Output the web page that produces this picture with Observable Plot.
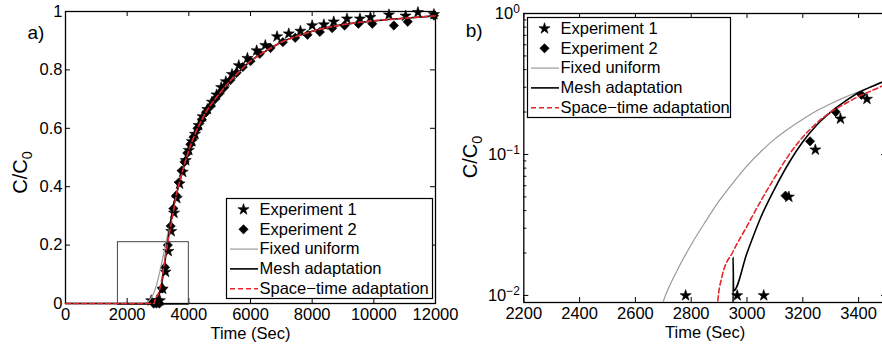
<!DOCTYPE html>
<html><head><meta charset="utf-8">
<script src="https://cdn.jsdelivr.net/npm/d3@7"></script>
<script src="https://cdn.jsdelivr.net/npm/@observablehq/plot@0.6"></script>
<style>
body{margin:0;background:#fff;}
#wrap{position:relative;width:882px;height:347px;overflow:hidden;background:#fff;}
#wrap svg{position:absolute;}
</style></head><body><div id="wrap"></div>
<script>
const FONT = "'Liberation Sans', Arial, Helvetica, sans-serif";

// ---- Experiment 1 (stars) ----
const exp1Time = [2780, 2965, 3060, 3150, 3245, 3335, 3430, 3520, 3610, 3700, 3800, 3900, 4000, 4100, 4200, 4320, 4450, 4600, 4750, 4900, 5050, 5200, 5400, 5620, 5900, 6200, 6480, 6860, 7240, 7620, 8000, 8380, 8700, 9130, 9550, 9890, 10490, 11030, 11430, 11950];
const exp1Conc = [0.01, 0.01, 0.01, 0.05, 0.108, 0.179, 0.247, 0.31, 0.36, 0.41, 0.45, 0.49, 0.525, 0.555, 0.58, 0.61, 0.64, 0.665, 0.69, 0.715, 0.74, 0.76, 0.785, 0.815, 0.84, 0.866, 0.884, 0.914, 0.924, 0.933, 0.952, 0.955, 0.965, 0.975, 0.975, 0.98, 0.989, 0.985, 0.997, 0.99];

// ---- Experiment 2 (diamonds) ----
const exp2Time = [2860, 2950, 3045, 3138, 3226, 3318, 3410, 3500, 3590, 3680, 3770, 3860, 3950, 4050, 4150, 4280, 4420, 4560, 4700, 4850, 5000, 5150, 5350, 5550, 5750, 6000, 6300, 6650, 7050, 7450, 7850, 8250, 8650, 9050, 9500, 9950, 10650, 11100, 11950];
const exp2Conc = [0, 0, 0, 0.051, 0.124, 0.2, 0.265, 0.325, 0.37, 0.415, 0.455, 0.485, 0.515, 0.545, 0.57, 0.6, 0.63, 0.655, 0.675, 0.7, 0.72, 0.74, 0.765, 0.79, 0.81, 0.83, 0.855, 0.875, 0.895, 0.91, 0.92, 0.93, 0.943, 0.952, 0.958, 0.958, 0.952, 0.965, 0.986];

// ---- Simulations: early part (differs per method) ----
const uniformTime = [0, 2500, 2600, 2650, 2700, 2750, 2800, 2850, 2900, 2950, 3000, 3050, 3100, 3150, 3200, 3250, 3300, 3350, 3400, 3450, 3500];
const uniformConc = [0, 0, 0.0015, 0.004, 0.0091, 0.0151, 0.0229, 0.0331, 0.0468, 0.063, 0.083, 0.105, 0.129, 0.153, 0.178, 0.204, 0.229, 0.254, 0.279, 0.305, 0.331];

const meshTime = [0, 2949, 2950, 2952, 3000, 3050, 3100, 3150, 3200, 3250, 3300, 3350, 3400, 3450, 3500];
const meshConc = [0, 0, 0.0187, 0.0108, 0.02, 0.036, 0.0575, 0.087, 0.123, 0.162, 0.2, 0.237, 0.275, 0.305, 0.335];

const spaceTimeTime = [0, 2880, 2895, 2910, 2950, 3000, 3050, 3100, 3150, 3200, 3250, 3300, 3350, 3400, 3450, 3500];
const spaceTimeConc = [0, 0, 0.0089, 0.0135, 0.0205, 0.031, 0.047, 0.069, 0.099, 0.133, 0.167, 0.2, 0.228, 0.258, 0.285, 0.315];

// ---- Simulations: common late-time part ----
const tailTime = [3600, 3700, 3800, 4000, 4200, 4500, 5000, 5500, 6000, 6500, 7000, 7500, 8000, 9000, 10000, 11000, 12000];
const tailConc = [0.375, 0.415, 0.455, 0.525, 0.58, 0.645, 0.72, 0.78, 0.83, 0.865, 0.895, 0.915, 0.932, 0.955, 0.968, 0.977, 0.985];

// ---- zoom window drawn on panel a ----
const zoomBoxTime = [1700, 4000];
const zoomBoxConc = [-0.005, 0.21];

// ---- ticks ----
const xTicksA = [0, 2000, 4000, 6000, 8000, 10000, 12000];
const yTicksA = [0, 0.2, 0.4, 0.6, 0.8, 1];
const xTicksB = [2200, 2400, 2600, 2800, 3000, 3200, 3400];
const yTicksB = [0.01, 0.1, 1];
const yMinorB = [0.02, 0.03, 0.04, 0.05, 0.06, 0.07, 0.08, 0.09, 0.2, 0.3, 0.4, 0.5, 0.6, 0.7, 0.8, 0.9];

const legendLabels = ["Experiment 1", "Experiment 2", "Fixed uniform", "Mesh adaptation", "Space\u2212time adaptation"];

// ---- build rows ----
const rows = (T, C) => T.map((t, i) => ({t, c: C[i]}));
const exp1 = rows(exp1Time, exp1Conc);
const exp2 = rows(exp2Time, exp2Conc);
const tail = rows(tailTime, tailConc);
const uniform = rows(uniformTime, uniformConc).concat(tail);
const mesh = rows(meshTime, meshConc).concat(tail);
const spaceTime = rows(spaceTimeTime, spaceTimeConc).concat(tail);
const zoomBox = [{x1: zoomBoxTime[0], x2: zoomBoxTime[1], y1: zoomBoxConc[0], y2: zoomBoxConc[1]}];

const RED = "#e3262b";
const styles = {
  uniform: {stroke: "#9a9a9a", strokeWidth: 1.2},
  mesh: {stroke: "black", strokeWidth: 1.6},
  spaceTime: {stroke: RED, strokeWidth: 1.6, strokeDasharray: "5,3"}
};
const STAR_R = 3.5, DIA_R = 4.2, DIA_SYM = "diamond2";
const TICK_FS = 16.5, LABEL_FS = 20;

function rich(svg) {
  d3.select(svg).selectAll("text").each(function () {
    const s = this.textContent;
    const m = s.match(/^(.*?)([_^])(.+)$/);
    if (!m) return;
    const el = d3.select(this);
    el.text(m[1]);
    el.append("tspan")
      .attr("dy", m[2] === "^" ? "-0.5em" : "0.35em")
      .attr("font-size", "0.72em")
      .text(m[3].replace("-", "\u2212"));
  });
  return svg;
}

const baseStyle = {fontFamily: FONT, fontSize: TICK_FS + "px", background: "transparent", overflow: "visible", maxWidth: "none", color: "black"};

function place(svg, left, top) {
  svg.style.left = left + "px";
  svg.style.top = top + "px";
  document.getElementById("wrap").appendChild(svg);
}

// ---------------- Panel a ----------------
{
  const W = 441, H = 347, mL = 65, mR = 6, mT = 11, mB = 44;
  const iw = W - mL - mR, ih = H - mT - mB;
  const svg = Plot.plot({
    width: W, height: H, marginLeft: mL, marginRight: mR, marginTop: mT, marginBottom: mB,
    style: baseStyle,
    x: {domain: [0, 12000]},
    y: {domain: [0, 1]},
    marks: [
      Plot.frame({stroke: "black", strokeWidth: 1.3}),
      Plot.tickX(xTicksA, {x: d => d, insetTop: ih - 5, stroke: "black"}),
      Plot.tickX(xTicksA, {x: d => d, insetBottom: ih - 5, stroke: "black"}),
      Plot.tickY(yTicksA, {y: d => d, insetRight: iw - 5, stroke: "black"}),
      Plot.tickY(yTicksA, {y: d => d, insetLeft: iw - 5, stroke: "black"}),
      Plot.axisX({ticks: xTicksA, tickSize: 0, tickPadding: 5, tickFormat: d => String(d), label: null}),
      Plot.axisY({ticks: yTicksA, tickSize: 0, tickPadding: 3, tickFormat: d => String(d), label: null}),
      Plot.rect(zoomBox, {x1: "x1", x2: "x2", y1: "y1", y2: "y2", fill: "none", stroke: "#444", strokeWidth: 1}),
      Plot.dot(exp1, {x: "t", y: "c", symbol: "star", r: STAR_R, fill: "black", stroke: "black", strokeWidth: 0.6}),
      Plot.dot(exp2, {x: "t", y: "c", symbol: DIA_SYM, r: DIA_R, fill: "black", stroke: "black", strokeWidth: 0.6}),
      Plot.line(uniform, {x: "t", y: "c", curve: "monotone-x", ...styles.uniform}),
      Plot.line(mesh, {x: "t", y: "c", curve: "monotone-x", ...styles.mesh}),
      Plot.line(spaceTime, {x: "t", y: "c", curve: "monotone-x", ...styles.spaceTime}),
      Plot.text(["a)"], {frameAnchor: "top-left", lineAnchor: "middle", dx: -38, dy: 21, textAnchor: "start", fontSize: 19}),
      Plot.text(["C/C_0"], {frameAnchor: "left", lineAnchor: "middle", textAnchor: "middle", rotate: -90, dx: -45, dy: 15, fontSize: LABEL_FS}),
      Plot.text(["Time (Sec)"], {frameAnchor: "bottom", lineAnchor: "middle", textAnchor: "middle", dy: 30, fontSize: TICK_FS})
    ]
  });
  place(rich(svg), 0, 0);
}

// ---------------- Panel b ----------------
{
  const W = 460, H = 347, mL = 82.3, mR = 15, mT = 13, mB = 45;
  const iw = W - mL - mR, ih = H - mT - mB;
  const logFloor = d => ({t: d.t, c: Math.max(d.c, 1e-4)});
  const inB = d => d.c > 0 && d.t <= 3500;
  const svg = Plot.plot({
    width: W, height: H, marginLeft: mL, marginRight: mR, marginTop: mT, marginBottom: mB,
    style: baseStyle,
    x: {domain: [2200, 3500]},
    y: {type: "log", domain: [0.00891, 1]},
    marks: [
      Plot.frame({stroke: "black", strokeWidth: 1.3}),
      Plot.tickX(xTicksB, {x: d => d, insetTop: ih - 5, stroke: "black"}),
      Plot.tickX(xTicksB, {x: d => d, insetBottom: ih - 5, stroke: "black"}),
      Plot.tickY(yTicksB, {y: d => d, insetRight: iw - 5, stroke: "black"}),
      Plot.tickY(yMinorB, {y: d => d, insetRight: iw - 3, stroke: "black"}),
      Plot.tickY(yTicksB, {y: d => d, insetLeft: iw - 5, stroke: "black"}),
      Plot.tickY(yMinorB, {y: d => d, insetLeft: iw - 3, stroke: "black"}),
      Plot.axisX({ticks: xTicksB, tickSize: 0, tickPadding: 5, tickFormat: d => String(d), label: null}),
      Plot.axisY({ticks: yTicksB, tickSize: 0, tickPadding: 4, tickFormat: d => "10^" + Math.round(Math.log10(d)), label: null}),
      Plot.dot(exp1.filter(inB), {x: "t", y: "c", symbol: "star", r: STAR_R, fill: "black", stroke: "black", strokeWidth: 0.6}),
      Plot.dot(exp2.filter(inB), {x: "t", y: "c", symbol: DIA_SYM, r: DIA_R, fill: "black", stroke: "black", strokeWidth: 0.6}),
      Plot.line(uniform.map(logFloor), {x: "t", y: "c", curve: "monotone-x", clip: true, ...styles.uniform}),
      Plot.line(mesh.map(logFloor), {x: "t", y: "c", curve: "monotone-x", clip: true, ...styles.mesh}),
      Plot.line(spaceTime.map(logFloor), {x: "t", y: "c", curve: "monotone-x", clip: true, ...styles.spaceTime}),
      Plot.text(["b)"], {frameAnchor: "top-left", lineAnchor: "middle", dx: -58, dy: 17, textAnchor: "start", fontSize: 19}),
      Plot.text(["C/C_0"], {frameAnchor: "left", lineAnchor: "middle", textAnchor: "middle", rotate: -90, dx: -53, dy: -1, fontSize: LABEL_FS}),
      Plot.text(["Time (Sec)"], {frameAnchor: "bottom", lineAnchor: "middle", textAnchor: "middle", dy: 30, fontSize: TICK_FS})
    ]
  });
  place(rich(svg), 441, 0);
}

// ---------------- Legends ----------------
function legend(left, top, w, h) {
  const rowY = legendLabels.map((_, i) => 11 + 19.8 * i);
  const markX = 17, lineX1 = 4, lineX2 = 32, textX = 33;
  const item = i => [{label: legendLabels[i], y: rowY[i]}];
  const svg = Plot.plot({
    width: w + 2, height: h + 2, margin: 1,
    style: {...baseStyle},
    x: {domain: [0, w], range: [1, w + 1], axis: null},
    y: {domain: [0, h], range: [1, h + 1], axis: null},
    marks: [
      Plot.frame({fill: "white", stroke: "black", strokeWidth: 1.2}),
      Plot.dot(item(0), {x: () => markX, y: "y", symbol: "star", r: STAR_R, fill: "black", stroke: "black", strokeWidth: 0.6}),
      Plot.dot(item(1), {x: () => markX, y: "y", symbol: DIA_SYM, r: DIA_R, fill: "black", stroke: "black", strokeWidth: 0.6}),
      Plot.ruleY(item(2), {y: "y", x1: () => lineX1, x2: () => lineX2, ...styles.uniform}),
      Plot.ruleY(item(3), {y: "y", x1: () => lineX1, x2: () => lineX2, ...styles.mesh}),
      Plot.ruleY(item(4), {y: "y", x1: () => lineX1, x2: () => lineX2, ...styles.spaceTime}),
      Plot.text(legendLabels.map((label, i) => ({label, y: rowY[i]})), {x: () => textX, y: "y", text: "label", textAnchor: "start", lineAnchor: "middle", fontSize: 16.5, fill: "black"})
    ]
  });
  place(svg, left - 1, top - 1);
}
legend(226, 198, 206, 100);
legend(527, 17, 203, 100);
</script></body></html>
